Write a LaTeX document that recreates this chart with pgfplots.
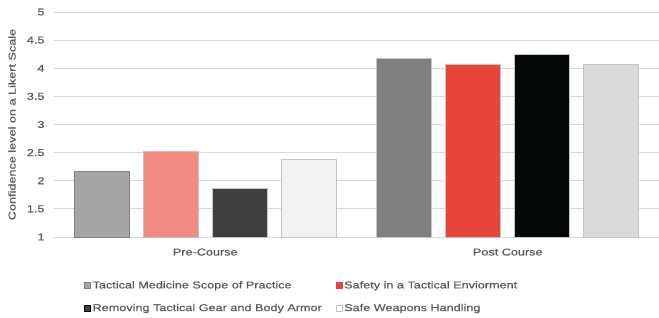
\documentclass[border=0pt]{standalone}
\usepackage{pgfplots}
\pgfplotsset{compat=1.18}
\usepackage{fontspec}
\setmainfont{Liberation Sans}[FakeStretch=1.27, FakeBold=0.6]
\definecolor{preA}{HTML}{A5A5A5}
\definecolor{preB}{HTML}{F28B82}
\definecolor{preC}{HTML}{404040}
\definecolor{preD}{HTML}{F2F2F2}
\definecolor{postA}{HTML}{7F7F7F}
\definecolor{postB}{HTML}{E8453A}
\definecolor{postC}{HTML}{050808}
\definecolor{postD}{HTML}{D9D9D9}
\definecolor{txt}{HTML}{595959}
\definecolor{grid}{HTML}{D9D9D9}
\definecolor{edge}{HTML}{C4C4C4}
\begin{document}
\begin{tikzpicture}
\path[use as bounding box] (-54bp,-81bp) rectangle (605bp,237bp);
\begin{axis}[
  scale only axis,
  width=605bp, height=225bp,
  xmin=-0.5, xmax=1.5,
  ymin=1, ymax=5,
  ytick={1,1.5,2,2.5,3,3.5,4,4.5,5},
  yticklabels={1,1.5,2,2.5,3,3.5,4,4.5,5},
  xtick={0,1},
  xticklabels={Pre-Course,Post Course},
  major tick length=0pt,
  axis line style={draw=none},
  ymajorgrids,
  grid style={draw=grid, line width=0.8pt},
  font=\fontsize{10}{12}\selectfont,
  tick label style={text=txt},
  /pgf/number format/assume math mode=true,
  yticklabel style={xshift=-6bp},
  xticklabel style={yshift=-8bp},
  ylabel={Confidence level on a Likert Scale},
  ylabel style={at={(rel axis cs:0,0.5)}, anchor=center, yshift=42bp, text=txt, font=\fontsize{10}{12}\selectfont},
  ybar, bar width=55bp,
  legend columns=2,
  legend cell align=left,
  legend style={draw=none, fill=none, at={(rel axis cs:0,0)}, anchor=north west,
    xshift=30bp, yshift=-42bp, inner sep=0pt, text=txt,
    /tikz/every even column/.append style={column sep=12bp},
    row sep=10bp, font=\fontsize{10}{12}\selectfont},
  legend image code/.code={\draw[#1] (0bp,-3bp) rectangle (6bp,3bp);},
]
\addlegendimage{fill=preA, draw=postA}
\addlegendentry{Tactical Medicine Scope of Practice}
\addlegendimage{fill=postB, draw=postB}
\addlegendentry{Safety in a Tactical Enviorment}
\addlegendimage{fill=preC, draw=postC}
\addlegendentry{Removing Tactical Gear and Body Armor}
\addlegendimage{fill=white, draw=edge}
\addlegendentry{Safe Weapons Handling}
% Pre-Course
\addplot[forget plot, fill=preA, draw=postA, line width=0.8pt, bar shift=-103.5bp] coordinates {(0,2.16)};
\addplot[forget plot, fill=preB, draw=edge, line width=0.8pt, bar shift=-34.5bp] coordinates {(0,2.53)};
\addplot[forget plot, fill=preC, draw=edge, line width=0.8pt, bar shift=34.5bp] coordinates {(0,1.86)};
\addplot[forget plot, fill=preD, draw=edge, line width=0.8pt, bar shift=103.5bp] coordinates {(0,2.38)};
% Post Course
\addplot[forget plot, fill=postA, draw=edge, line width=0.8pt, bar shift=-103.5bp] coordinates {(1,4.17)};
\addplot[forget plot, fill=postB, draw=edge, line width=0.8pt, bar shift=-34.5bp] coordinates {(1,4.07)};
\addplot[forget plot, fill=postC, draw=edge, line width=0.8pt, bar shift=34.5bp] coordinates {(1,4.24)};
\addplot[forget plot, fill=postD, draw=edge, line width=0.8pt, bar shift=103.5bp] coordinates {(1,4.07)};
\end{axis}
\end{tikzpicture}
\end{document}
